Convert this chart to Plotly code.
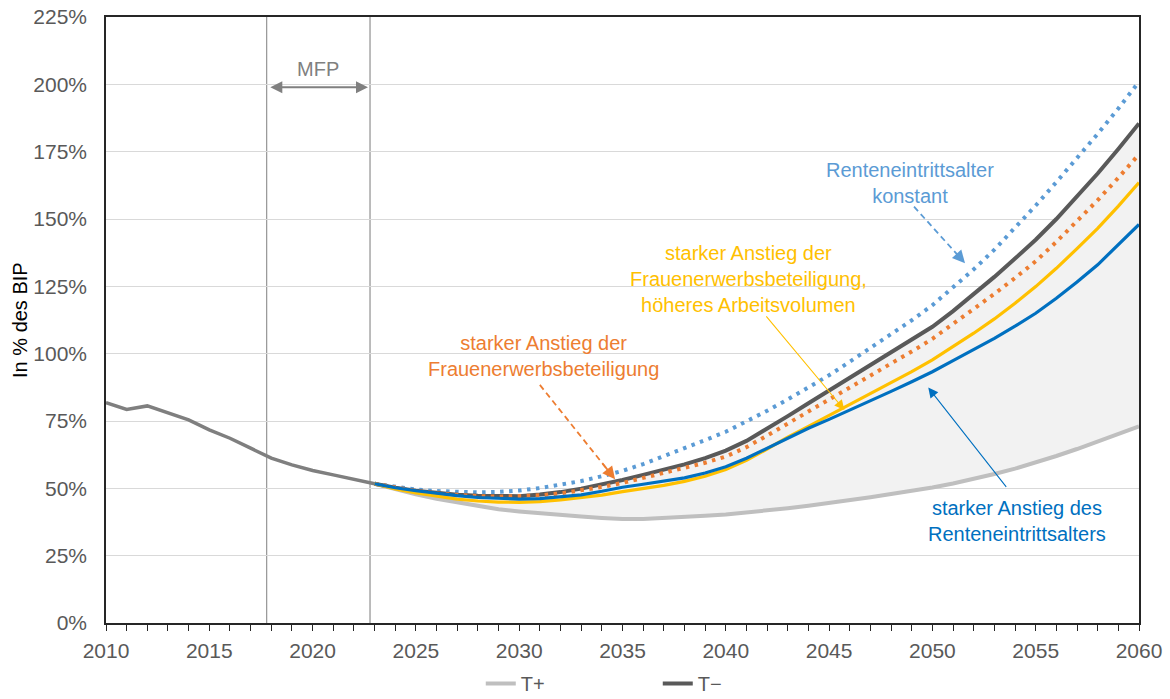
import plotly.graph_objects as go

# ---------------- data ----------------
hist_years = list(range(2010, 2024))
hist_vals = [81.8, 79.3, 80.6, 77.9, 75.4, 71.7, 68.6, 64.9, 61.2, 58.7, 56.6, 55.0, 53.2, 51.7]

proj_years = list(range(2023, 2061))
t_plus = [51.7, 49.6, 47.8, 46.1, 44.7, 43.3, 42.2, 41.4, 40.7, 40.0, 39.5, 39.0, 38.6, 38.6, 38.9, 39.3,
          39.8, 40.3, 41.0, 41.8, 42.6, 43.5, 44.5, 45.6, 46.7, 47.9, 49.0, 50.3, 51.8, 53.5, 55.3, 57.3,
          59.5, 62.0, 64.6, 67.4, 70.2, 73.0]
t_minus = [51.7, 50.2, 49.1, 48.2, 47.6, 47.2, 47.0, 47.1, 47.7, 48.6, 49.9, 51.4, 53.1, 55.0, 56.9, 58.9,
           61.2, 64.0, 67.6, 72.0, 76.8, 81.6, 86.3, 91.0, 95.6, 100.2, 105.0, 110.0, 115.8, 122.0, 128.5,
           135.3, 142.3, 150.0, 158.3, 166.9, 176.0, 185.5]
ra_konstant = [51.7, 50.5, 49.6, 49.0, 48.6, 48.5, 48.7, 49.2, 50.1, 51.3, 52.7, 54.5, 56.5, 59.0, 61.9,
               65.0, 67.9, 71.0, 74.8, 78.8, 83.0, 87.4, 92.0, 97.0, 102.0, 107.0, 112.4, 118.0, 124.5,
               131.3, 138.6, 146.6, 155.0, 163.7, 172.6, 181.6, 191.0, 201.0]
frauen = [51.7, 50.2, 49.0, 48.1, 47.5, 47.1, 46.9, 47.0, 47.4, 48.1, 49.2, 50.5, 52.0, 53.8, 55.6, 57.5,
          59.5, 61.8, 65.3, 69.6, 74.0, 78.5, 83.0, 87.5, 91.9, 96.3, 100.8, 105.5, 111.0, 116.6, 122.2,
          128.1, 134.3, 141.5, 149.1, 157.0, 165.3, 174.0]
frauen_av = [51.7, 49.8, 48.3, 47.0, 46.0, 45.3, 44.9, 44.8, 45.1, 45.7, 46.5, 47.5, 48.8, 49.9, 51.1,
             52.6, 54.5, 57.0, 60.4, 64.6, 69.0, 73.0, 77.0, 81.0, 85.0, 89.0, 93.3, 97.7, 102.6, 107.6,
             112.9, 118.7, 124.9, 131.7, 139.0, 146.5, 154.8, 163.5]
ra_anstieg = [51.7, 50.2, 49.1, 48.1, 47.3, 46.6, 46.2, 46.0, 46.2, 46.8, 47.6, 48.9, 50.4, 51.5, 52.6,
              53.9, 55.7, 58.0, 61.2, 65.0, 68.8, 72.3, 75.6, 79.0, 82.5, 86.0, 89.6, 93.3, 97.4, 101.5,
              105.7, 110.2, 115.0, 120.6, 126.6, 133.0, 140.3, 148.0]

y_ticks = [0, 25, 50, 75, 100, 125, 150, 175, 200, 225]
y_ticklabels = [f"{v}%" for v in y_ticks]
x_ticks = list(range(2010, 2061, 5))

FONT = "Liberation Sans, Arial, sans-serif"
GRAY_TXT = "#595959"
TS = 21   # tick font size
AS = 20   # annotation font size

fig = go.Figure()

# shaded corridor between T+ and T-
fig.add_trace(go.Scatter(x=proj_years, y=t_plus, mode="lines", line=dict(width=0, color="#F2F2F2"),
                         showlegend=False, hoverinfo="skip"))
fig.add_trace(go.Scatter(x=proj_years, y=t_minus, mode="lines", line=dict(width=0, color="#F2F2F2"),
                         fill="tonexty", fillcolor="#F2F2F2", showlegend=False, hoverinfo="skip"))

# lines
fig.add_trace(go.Scatter(x=hist_years, y=hist_vals, mode="lines", line=dict(color="#7F7F7F", width=3.5),
                         showlegend=False))
fig.add_trace(go.Scatter(x=proj_years, y=t_plus, mode="lines", name="T+",
                         line=dict(color="#BFBFBF", width=4)))
fig.add_trace(go.Scatter(x=proj_years, y=ra_konstant, mode="lines", showlegend=False,
                         line=dict(color="#5B9BD5", width=4, dash="3.5px,5.5px")))
fig.add_trace(go.Scatter(x=proj_years, y=t_minus, mode="lines", name="T\u2212",
                         line=dict(color="#595959", width=4)))
fig.add_trace(go.Scatter(x=proj_years, y=frauen, mode="lines", showlegend=False,
                         line=dict(color="#ED7D31", width=4, dash="3.5px,5.5px")))
fig.add_trace(go.Scatter(x=proj_years, y=frauen_av, mode="lines", showlegend=False,
                         line=dict(color="#FFC000", width=3.2)))
fig.add_trace(go.Scatter(x=proj_years, y=ra_anstieg, mode="lines", showlegend=False,
                         line=dict(color="#0070C0", width=3.2)))

# MFP vertical lines
fig.add_shape(type="line", x0=2017.78, x1=2017.78, y0=0, y1=225, xref="x", yref="y",
              line=dict(color="#7F7F7F", width=1), layer="below")
fig.add_shape(type="line", x0=2022.78, x1=2022.78, y0=0, y1=225, xref="x", yref="y",
              line=dict(color="#A6A6A6", width=1.5), layer="below")

annotations = []
# MFP double arrow
annotations.append(dict(x=2022.68, y=198.9, ax=2017.88, ay=198.9, axref="x", ayref="y", xref="x", yref="y",
                        text="", showarrow=True, arrowhead=2, startarrowhead=2, arrowside="end+start",
                        arrowsize=1.2, startarrowsize=1.2, arrowwidth=2, arrowcolor="#808080"))
annotations.append(dict(x=2020.26, y=205.7, xref="x", yref="y", text="MFP", showarrow=False,
                        font=dict(family=FONT, size=AS, color="#808080")))


def dashed_arrow(x0, y0, x1, y1, color):
    fig.add_shape(type="line", x0=x0, y0=y0, x1=x0 + (x1 - x0) * 0.9, y1=y0 + (y1 - y0) * 0.9,
                  xref="x", yref="y", line=dict(color=color, width=1.8, dash="6px,4px"))
    annotations.append(dict(x=x1, y=y1, ax=x0 + (x1 - x0) * 0.82, ay=y0 + (y1 - y0) * 0.82,
                            axref="x", ayref="y", xref="x", yref="y", text="", showarrow=True,
                            arrowhead=2, arrowsize=1.4, arrowwidth=1.8, arrowcolor=color, standoff=0))


dashed_arrow(2049.11, 154.6, 2051.58, 133.6, "#5B9BD5")
dashed_arrow(2031.0, 88.4, 2034.64, 53.4, "#ED7D31")

# thin solid arrows
annotations.append(dict(x=2045.74, y=79.1, ax=2041.9, ay=114.4, axref="x", ayref="y", xref="x", yref="y",
                        text="", showarrow=True, arrowhead=2, arrowsize=1.8, arrowwidth=1.1,
                        arrowcolor="#FFC000", standoff=0))
annotations.append(dict(x=2049.80, y=87.4, ax=2053.63, ay=50.0, axref="x", ayref="y", xref="x", yref="y",
                        text="", showarrow=True, arrowhead=2, arrowsize=1.8, arrowwidth=1.1,
                        arrowcolor="#0070C0", standoff=0))

# labels
annotations.append(dict(x=2048.9, y=163.3, xref="x", yref="y", showarrow=False,
                        text="Renteneintrittsalter<br>konstant",
                        font=dict(family=FONT, size=AS, color="#5B9BD5")))
annotations.append(dict(x=2041.12, y=127.9, xref="x", yref="y", showarrow=False,
                        text="starker Anstieg der<br>Frauenerwerbsbeteiligung,<br>höheres Arbeitsvolumen",
                        font=dict(family=FONT, size=AS, color="#FFC000")))
annotations.append(dict(x=2031.2, y=99.0, xref="x", yref="y", showarrow=False,
                        text="starker Anstieg der<br>Frauenerwerbsbeteiligung",
                        font=dict(family=FONT, size=AS, color="#ED7D31")))
annotations.append(dict(x=2054.09, y=37.9, xref="x", yref="y", showarrow=False,
                        text="starker Anstieg des<br>Renteneintrittsalters",
                        font=dict(family=FONT, size=AS, color="#0070C0")))
# y-axis title
annotations.append(dict(x=-0.0833, y=0.5, xref="paper", yref="paper", showarrow=False,
                        text="In % des BIP", textangle=-90, xanchor="center", yanchor="middle",
                        font=dict(family=FONT, size=AS, color="#000000")))

fig.update_layout(
    width=1170, height=699,
    margin=dict(l=106, r=31, t=17, b=76, pad=0, autoexpand=False),
    paper_bgcolor="white", plot_bgcolor="white",
    font=dict(family=FONT, size=TS, color=GRAY_TXT),
    annotations=annotations,
    showlegend=True,
    legend=dict(orientation="h", x=0.3628, xanchor="left", y=-0.1, yanchor="middle",
                traceorder="normal", entrywidth=132, entrywidthmode="pixels",
                font=dict(family=FONT, size=AS, color=GRAY_TXT), bgcolor="rgba(0,0,0,0)"),
    xaxis=dict(range=[2010, 2060], tickvals=x_ticks, ticktext=[str(v) for v in x_ticks],
               showgrid=False, zeroline=False, showline=True, linecolor="#262626", linewidth=1.5,
               mirror=True, ticks="outside", ticklen=6, tickcolor="#262626", tickwidth=1,
               minor=dict(dtick=1, ticks="outside", ticklen=6, tickcolor="#262626", showgrid=False),
               ticklabelstandoff=2, automargin=False,
               tickfont=dict(family=FONT, size=TS, color=GRAY_TXT)),
    yaxis=dict(range=[0, 225], tickvals=y_ticks, ticktext=y_ticklabels, showgrid=True,
               gridcolor="#D9D9D9", gridwidth=1, zeroline=False, showline=True, linecolor="#262626",
               linewidth=1.5, mirror=True, ticks="", ticklabelstandoff=13, automargin=False,
               tickfont=dict(family=FONT, size=TS, color=GRAY_TXT)),
)

fig.write_html("out.html", config={"displayModeBar": False},
               post_script="document.body.style.margin='0';document.body.style.overflow='hidden';")
